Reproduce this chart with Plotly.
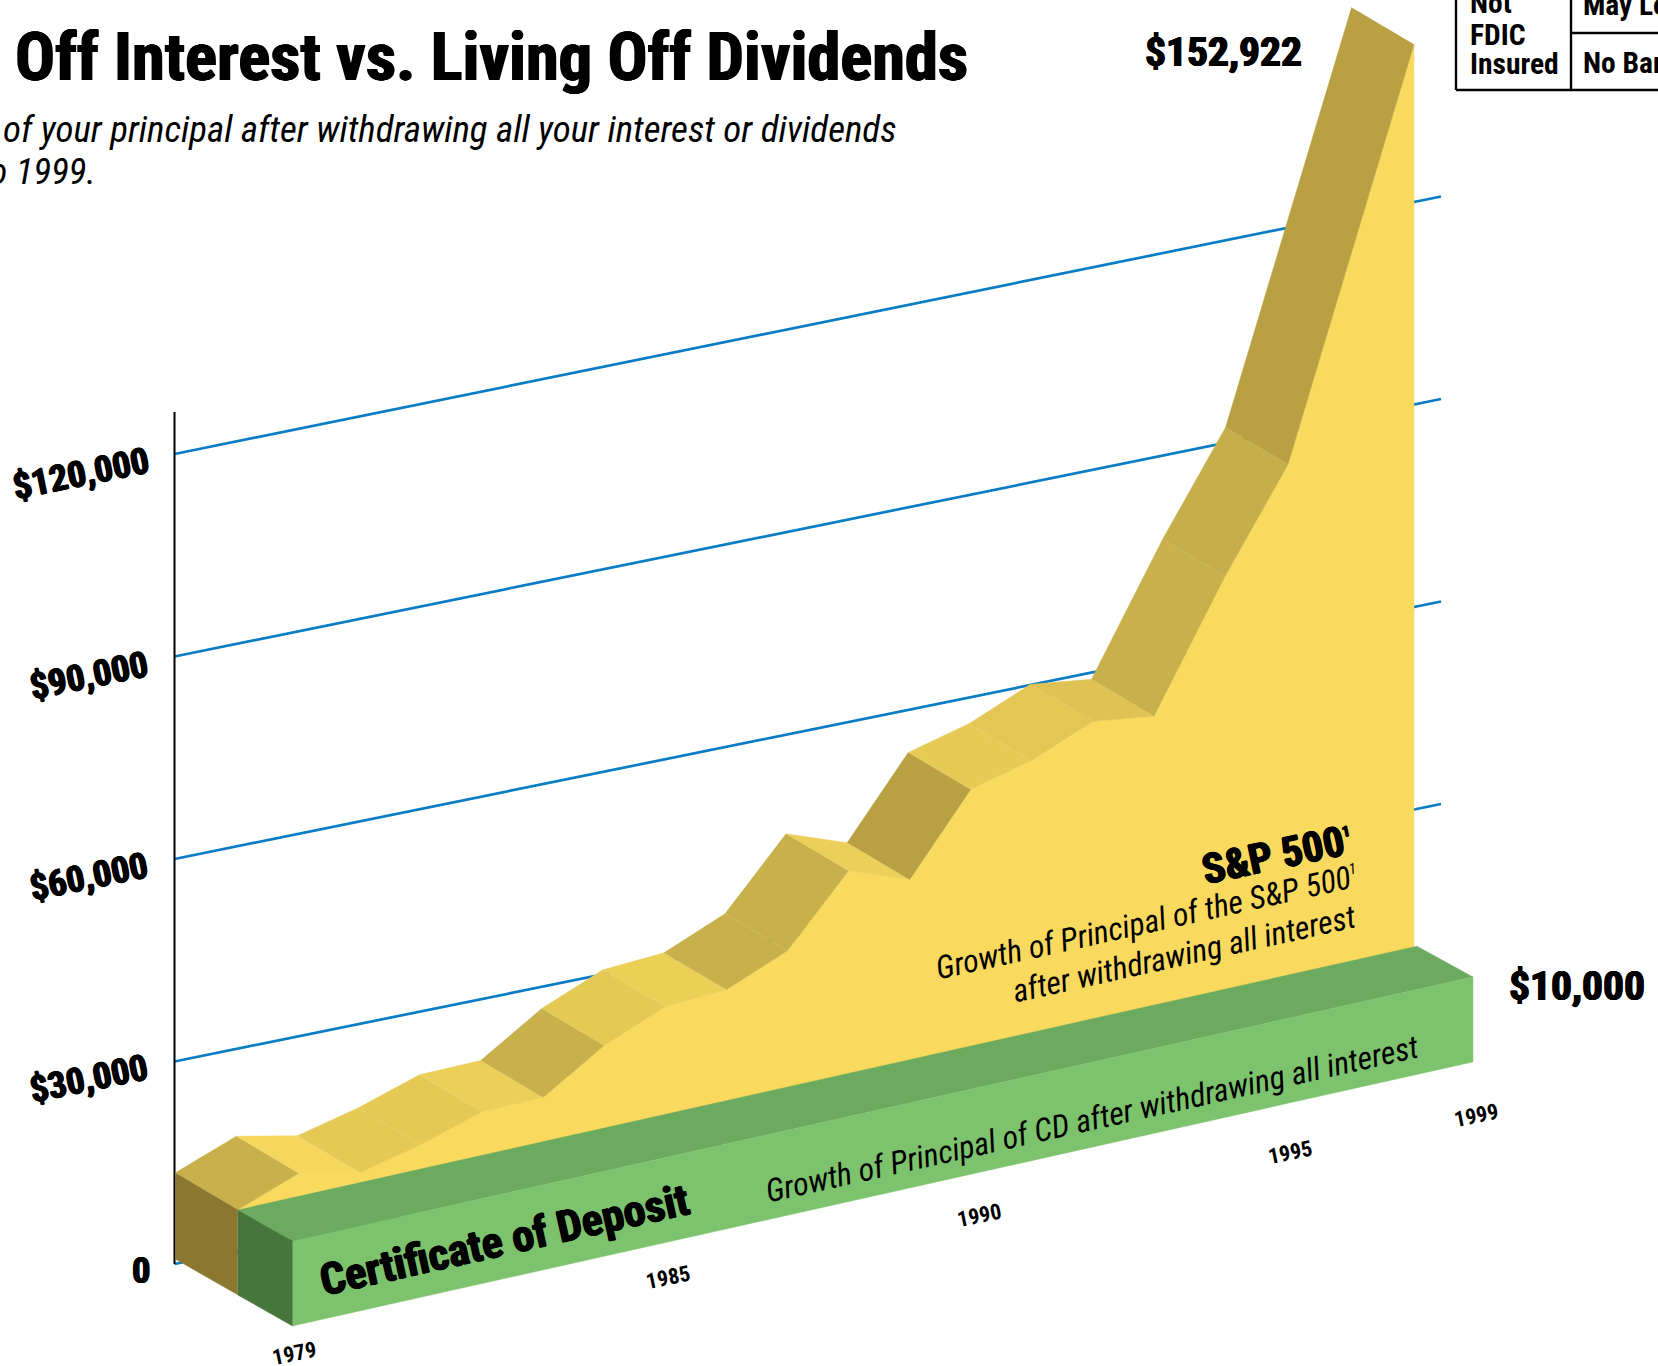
import numpy as np
import plotly.graph_objects as go

# --- Data -----------------------------------------------------------------
periods = [0, 1, 2, 3, 4, 5, 6, 7, 8, 9, 10, 11, 12, 13, 14, 15, 16, 17, 18, 19]
sp500_principal = [13700, 17350, 15550, 17900, 21000, 21250, 27200, 31150, 31850, 35850,
                   46000, 42800, 54500, 57000, 61000, 59900, 78750, 93650, 123300, 152922]
cd_principal = [10000] * 20
value_ticks = [0, 30000, 60000, 90000, 120000]
value_tick_labels = ["0", "$30,000", "$60,000", "$90,000", "$120,000"]
year_ticks = [1979, 1985, 1990, 1995, 1999]

# --- Oblique projection onto the page ---------------------------------------
W, H = 1658, 1366
SP_K = 0.006652        # px per dollar on the S&P wall
GRID_K = 0.00675       # px per dollar on the back wall
CD_K = 0.0085          # px per dollar on the CD slab
WALL_SLOPE = 0.2033
SLAB_SLOPE = 0.2237
DEPTH = (62.5, 37.0)
AXIS_X, AXIS_ZERO = 174.5, 1264.0
GRID_END_X = 1441.0


def front_x(p):
    return np.interp(p, [0, 15, 16, 19], [237.7, 1154, 1225, 1414])


def front_y(p, v):
    x = front_x(p)
    return 1301 - WALL_SLOPE * (x - 237.7) - np.asarray(v) * SP_K


def slab_back(p):
    x = np.interp(p, [0, 19], [237.7, 1417])
    return x, 1210 - SLAB_SLOPE * (x - 237.7)


def slab_front(p, v):
    x = np.interp(p, [0, 19], [292.5, 1473])
    bottom = 1326 - SLAB_SLOPE * (x - 292.5)
    return x, bottom - np.asarray(v) * CD_K, bottom


def grid_y(x, v):
    return AXIS_ZERO - WALL_SLOPE * (x - AXIS_X) - v * GRID_K


def year_pos(y):
    x = np.interp(y, [1979, 1995, 1999], [294, 1290, 1476])
    return x, 1353 - 0.2013 * (x - 294)


fig = go.Figure()


def poly(xs, ys, color):
    fig.add_trace(go.Scatter(x=list(xs), y=list(ys), mode="lines", fill="toself",
                             fillcolor=color, line=dict(color=color, width=0.4),
                             hoverinfo="skip", showlegend=False))


# Value gridlines on the back wall
for v in value_ticks:
    fig.add_trace(go.Scatter(x=[AXIS_X, GRID_END_X], y=[grid_y(AXIS_X, v), grid_y(GRID_END_X, v)],
                             mode="lines", line=dict(color="#0A7CC4", width=2.7),
                             hoverinfo="skip", showlegend=False))

# Vertical value axis
fig.add_trace(go.Scatter(x=[AXIS_X, AXIS_X], y=[412, AXIS_ZERO], mode="lines",
                         line=dict(color="#000000", width=2), hoverinfo="skip", showlegend=False))

# S&P 500 front wall
p = np.array(periods)
fx = front_x(p)
fy = front_y(p, sp500_principal)
poly(list(fx) + [fx[-1], fx[0]], list(fy) + [965, 1215], "#FADA5E")

# Ridge facets along the top of the wall; the last two periods share one facet
ridge_runs = [(0, 1, "#C8B04B"), (1, 2, "#F6D65D"), (2, 3, "#E5C955"), (3, 4, "#E5C955"),
              (4, 5, "#EBCF58"), (5, 6, "#C8B04B"), (6, 7, "#E5C955"), (7, 8, "#EBD058"),
              (8, 9, "#C8B04B"), (9, 10, "#C8B04B"), (10, 11, "#EBCF58"), (11, 12, "#B9A143"),
              (12, 13, "#E6CA55"), (13, 14, "#E3C654"), (14, 15, "#DFC253"), (15, 16, "#C8B04B"),
              (16, 17, "#C6AF4A"), (17, 19, "#B9A143")]
for a, b, c in ridge_runs:
    tx, ty = fx[a:b + 1], fy[a:b + 1]
    poly(list(tx) + list(tx[::-1] - DEPTH[0]), list(ty) + list(ty[::-1] - DEPTH[1]), c)

# End face of the S&P wall, lifted slightly so the zero gridline shows beneath it
poly([fx[0] - DEPTH[0], fx[0], fx[0], fx[0] - DEPTH[0]],
     [fy[0] - DEPTH[1], fy[0], fy[0] + cd_principal[0] * CD_K, AXIS_ZERO - 5], "#8B772F")

# Certificate of Deposit slab
bx, by = slab_back(p)
sx, st, sb = slab_front(p, cd_principal)
poly(list(bx) + list(sx[::-1]), list(by) + list(st[::-1]), "#6BAA5F")
poly(list(sx) + list(sx[::-1]), list(st) + list(sb[::-1]), "#7DC36D")
poly([bx[0], sx[0], sx[0], bx[0]], [by[0], st[0], sb[0], by[0] + cd_principal[0] * CD_K], "#47763D")

# --- Text -----------------------------------------------------------------
NARROW = "Roboto Condensed"
BLACK_SHADOW = "0.8px 0 0 #000, -0.8px 0 0 #000, 0 0.4px 0 #000, 0 -0.4px 0 #000"
SMALL_ONE = "<sup><span style='font-size:15px'>1</span></sup>"
notes = []


def note(text, x, y, size, angle=0, weight="bold", italic=False, xanchor="center", shadow=None):
    font = dict(family=NARROW, size=size, color="#000000", weight=weight,
                style="italic" if italic else "normal")
    if shadow:
        font["shadow"] = shadow
    notes.append(dict(text=text, x=x, y=y, xref="x", yref="y", showarrow=False, font=font,
                      textangle=angle, xanchor=xanchor, yanchor="middle",
                      borderpad=0, borderwidth=0))


note("Off Interest vs. Living Off Dividends", 968, 57, 66.5, xanchor="right", shadow=BLACK_SHADOW)
note("of your principal after withdrawing all your interest or dividends", 897, 129, 37,
     italic=True, weight="normal", xanchor="right")
note("to 1999.", 96, 171, 37, italic=True, weight="normal", xanchor="right")

# Value tick labels
tick_centres = [(140.6, 1270), (89, 1078.6), (89, 876.6), (89, 675), (81.4, 473.6)]
for lab, (cx, cy) in zip(value_tick_labels, tick_centres):
    note(lab, cx, cy, 36.5, angle=0 if lab == "0" else -11.5, shadow=BLACK_SHADOW)

# Year tick labels
for yr in year_ticks:
    lx, ly = year_pos(yr)
    note(str(yr), float(lx), float(ly), 22, angle=-11.5)

# End-point values
note("${:,}".format(sp500_principal[-1]), 1223, 51, 41.5, shadow=BLACK_SHADOW)
note("${:,}".format(cd_principal[-1]), 1577, 985, 41.5, shadow=BLACK_SHADOW)

# Series captions
note("S&P 500" + SMALL_ONE, 1277, 854, 42, angle=-12, shadow=BLACK_SHADOW)
note("Growth of Principal of the S&P 500" + SMALL_ONE, 1147, 922, 32, angle=-12.5, italic=True, weight="normal")
note("after withdrawing all interest", 1184, 954, 32, angle=-12.5, italic=True, weight="normal")
note("Certificate of Deposit", 504.5, 1239.5, 44, angle=-12.6, shadow=BLACK_SHADOW)
note("Growth of Principal of CD after withdrawing all interest", 1092, 1119, 32, angle=-12.6,
     italic=True, weight="normal")

# Investor notice box
note("Not", 1470, 3, 29.5, xanchor="left")
note("FDIC", 1470, 35, 29.5, xanchor="left")
note("Insured", 1470, 64, 29.5, xanchor="left")
note("May Lose Value", 1583, 5, 29.5, xanchor="left")
note("No Bank Guarantee", 1583, 63, 29.5, xanchor="left")

box_line = dict(color="#000000", width=2.4)
box_shapes = [
    dict(type="line", x0=1456, x1=1456, y0=0, y1=90, line=box_line),
    dict(type="line", x0=1456, x1=W, y0=90, y1=90, line=box_line),
    dict(type="line", x0=1571, x1=1571, y0=0, y1=90, line=box_line),
    dict(type="line", x0=1571, x1=W, y0=33, y1=33, line=box_line),
]

fig.update_layout(
    width=W, height=H, autosize=False,
    margin=dict(l=0, r=0, t=0, b=0),
    paper_bgcolor="#FFFFFF", plot_bgcolor="#FFFFFF",
    xaxis=dict(range=[0, W], visible=False, fixedrange=True),
    yaxis=dict(range=[H, 0], visible=False, fixedrange=True),
    annotations=notes, shapes=box_shapes, showlegend=False,
)

fig.write_html("out.html", config={"displayModeBar": False})
